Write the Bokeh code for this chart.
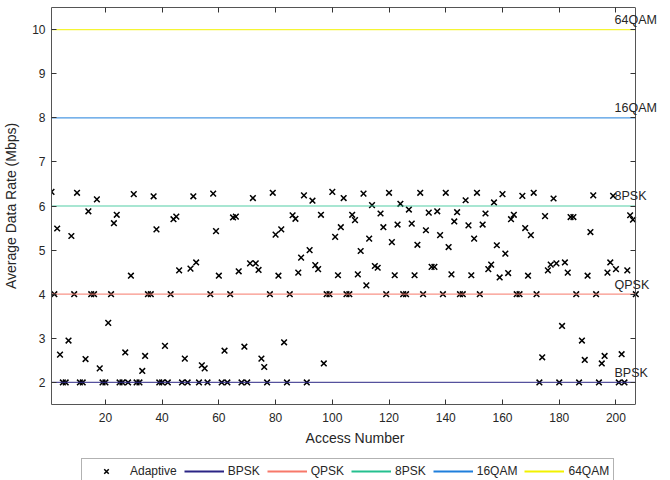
from bokeh.plotting import figure
from bokeh.layouts import column
from bokeh.models import (Range1d, LinearAxis, FixedTicker, Legend, LegendItem,
                          Label, ColumnDataSource)
from bokeh.embed import file_html
from bokeh.resources import INLINE

# ---------------- data ----------------
adaptive_rate = [
    6.32, 4.00, 5.49, 2.63, 2.00, 2.00, 2.95, 5.32, 4.00, 6.30,
    2.00, 2.00, 2.53, 5.88, 4.00, 4.00, 6.15, 2.32, 2.00, 2.00,
    3.35, 4.00, 5.61, 5.80, 2.00, 2.00, 2.68, 2.00, 4.42, 6.27,
    2.00, 2.00, 2.26, 2.60, 4.00, 4.00, 6.22, 5.47, 2.00, 2.00,
    2.83, 2.00, 4.00, 5.70, 5.76, 4.54, 2.00, 2.54, 2.00, 4.58,
    6.22, 4.72, 2.00, 2.39, 2.32, 2.00, 4.00, 6.28, 5.43, 4.42,
    2.00, 2.72, 2.00, 4.00, 5.74, 5.76, 4.52, 2.00, 2.81, 2.00,
    4.70, 6.18, 4.70, 4.55, 2.54, 2.35, 2.00, 4.00, 6.30, 5.35,
    4.42, 5.47, 2.91, 2.00, 4.00, 5.79, 5.71, 4.49, 4.83, 6.24,
    2.00, 5.00, 6.12, 4.66, 4.57, 5.80, 2.43, 4.00, 4.00, 6.32,
    5.30, 4.43, 5.52, 6.18, 4.00, 4.00, 5.80, 5.68, 4.45, 4.98,
    6.28, 4.20, 5.26, 6.02, 4.64, 4.60, 5.83, 5.52, 4.00, 6.30,
    5.18, 4.43, 5.58, 6.05, 4.00, 4.00, 5.92, 5.60, 4.43, 5.12,
    6.30, 4.00, 5.45, 5.85, 4.62, 4.62, 5.88, 5.34, 4.00, 6.30,
    5.07, 4.45, 5.65, 5.86, 4.00, 4.00, 6.13, 5.56, 4.43, 5.26,
    6.30, 4.00, 5.58, 5.83, 4.57, 4.67, 6.08, 5.11, 4.38, 6.27,
    4.92, 4.48, 5.70, 5.80, 4.00, 4.00, 6.23, 5.50, 4.42, 5.34,
    6.30, 4.00, 2.00, 2.57, 5.77, 4.54, 4.67, 6.17, 4.70, 2.00,
    3.28, 4.72, 4.49, 5.75, 5.75, 4.00, 2.00, 2.95, 2.51, 4.42,
    5.41, 6.24, 4.00, 2.00, 2.43, 2.60, 4.49, 4.72, 6.23, 4.57,
    2.00, 2.64, 2.00, 4.54, 5.79, 5.69, 4.00,
]
access_number = list(range(1, len(adaptive_rate) + 1))

schemes = ["BPSK", "QPSK", "8PSK", "16QAM", "64QAM"]
scheme_rates = [2, 4, 6, 8, 10]
scheme_colors = ["#2b2585", "#f7796a", "#25c08f", "#1f7fdc", "#f2f200"]

x_ticks = [20, 40, 60, 80, 100, 120, 140, 160, 180, 200]
y_ticks = [2, 3, 4, 5, 6, 7, 8, 9, 10]

FONT = "Liberation Sans"
x_lo, x_hi = access_number[0], access_number[-1]

# ---------------- main figure ----------------
p = figure(frame_width=607, frame_height=397, output_backend="svg",
           toolbar_location=None,
           x_range=Range1d(x_lo, 215), y_range=Range1d(1.5, 10.5),
           min_border_left=43, min_border_right=0, min_border_top=7,
           min_border_bottom=0, x_axis_location=None, y_axis_location=None)
p.grid.visible = False
p.outline_line_color = None
p.background_fill_color = "white"
p.border_fill_color = "white"


def style_axis(ax, labels=True):
    ax.major_tick_in = 5
    ax.major_tick_out = 0
    ax.minor_tick_in = 0
    ax.minor_tick_out = 0
    ax.axis_line_color = "#555555"
    ax.major_tick_line_color = "#333333"
    ax.major_label_text_font = FONT
    ax.major_label_text_font_size = "12px"
    ax.major_label_text_color = "#262626"
    ax.axis_label_text_font = FONT
    ax.axis_label_text_font_style = "normal"
    ax.axis_label_text_font_size = "14px"
    ax.axis_label_text_color = "#262626"
    if not labels:
        ax.major_label_standoff = 0
        ax.major_label_overrides = {t: "" for t in ax.ticker.ticks}


xb = LinearAxis(ticker=FixedTicker(ticks=x_ticks), axis_label="Access Number",
                bounds=(x_lo, x_hi))
style_axis(xb)
xb.major_label_standoff = 8
xb.axis_label_standoff = 5
p.add_layout(xb, "below")

yl = LinearAxis(ticker=FixedTicker(ticks=y_ticks), axis_label="Average Data Rate (Mbps)")
style_axis(yl)
yl.major_label_standoff = 6
yl.axis_label_standoff = 10
p.add_layout(yl, "left")

xt = LinearAxis(ticker=FixedTicker(ticks=x_ticks), bounds=(x_lo, x_hi))
style_axis(xt, labels=False)
p.add_layout(xt, "above")

yr = LinearAxis(ticker=FixedTicker(ticks=y_ticks), fixed_location=x_hi)
style_axis(yr, labels=False)
p.add_layout(yr, "right")

src = ColumnDataSource(dict(x=access_number, y=adaptive_rate))
p.scatter("x", "y", source=src, marker="x", size=8,
          line_color="black", line_width=1.5)

for name, rate, col in zip(schemes, scheme_rates, scheme_colors):
    p.line(x=[x_lo, x_hi], y=[rate, rate], line_color=col, line_width=1.2,
           line_alpha=0.8)
    p.add_layout(Label(x=199.5, y=rate + 0.22, text=name, text_font=FONT,
                       text_font_size="12.5px", text_color="#262626",
                       text_baseline="middle", text_align="left"))

# ---------------- legend strip ----------------
# Same series drawn again in a strip whose ranges lie outside the data,
# so only the legend of this strip is seen.
LEG_H = 33
pl = figure(width=650, height=LEG_H, output_backend="svg", toolbar_location=None,
            x_range=Range1d(-20, -10), y_range=Range1d(-20, -10),
            min_border=0, x_axis_location=None, y_axis_location=None)
pl.grid.visible = False
pl.outline_line_color = None
pl.border_fill_color = "white"

items = [LegendItem(label="Adaptive",
                    renderers=[pl.scatter("x", "y", source=src, marker="x", size=8,
                                          line_color="black", line_width=1.5)])]
for name, rate, col in zip(schemes, scheme_rates, scheme_colors):
    items.append(LegendItem(label=name,
                            renderers=[pl.line(x=[x_lo, x_hi], y=[rate, rate],
                                               line_color=col, line_width=1.8)]))

legend = Legend(items=items, orientation="horizontal", location=(30, -3),
                glyph_width=40, glyph_height=16, label_standoff=4, spacing=7,
                padding=4, margin=0, border_line_color="#666666",
                label_text_font=FONT, label_text_font_size="12px",
                label_text_color="#262626", label_height=16)
pl.add_layout(legend, "center")

open("out.html", "w").write(file_html(column(p, pl, spacing=0), INLINE))
